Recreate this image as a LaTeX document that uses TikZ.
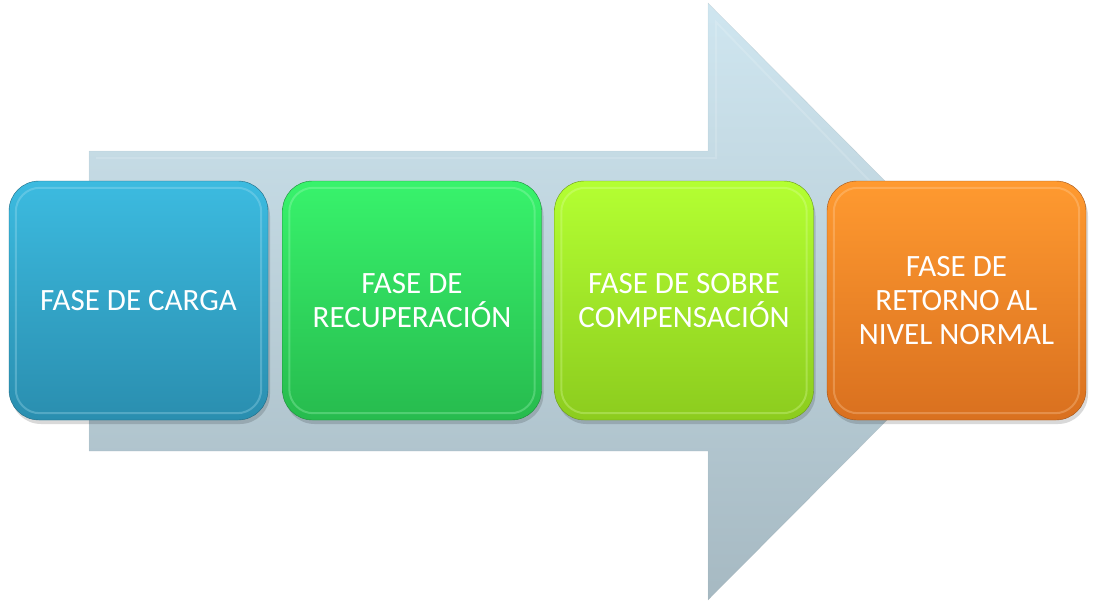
\documentclass[tikz,border=0pt]{standalone}
\usepackage{fontspec}
\setmainfont{Carlito}
\begin{document}
\begin{tikzpicture}[x=1pt,y=-1pt,
  phase/.style={rounded corners=30pt, minimum width=259pt, minimum height=239pt,
    align=center, text=white, font=\fontsize{31}{34}\selectfont, inner sep=0pt},
  bevel/.style={rounded corners=24pt, line width=2pt, draw opacity=0.3}]
\useasboundingbox (0,0) rectangle (1096,603);
\definecolor{arrtop}{HTML}{CFE6F0}
\definecolor{arrbot}{HTML}{A6B9C2}
\definecolor{bluetop}{HTML}{3CBBE0}
\definecolor{bluebot}{HTML}{2A8EAF}
\definecolor{greentop}{HTML}{38F36C}
\definecolor{greenbot}{HTML}{27BB4E}
\definecolor{limetop}{HTML}{B4FF32}
\definecolor{limebot}{HTML}{8CCC1E}
\definecolor{orangetop}{HTML}{FF9A30}
\definecolor{orangebot}{HTML}{D9701F}
% big arrow
\shade[top color=arrtop, bottom color=arrbot, draw=arrbot!80!black, draw opacity=0.25]
  (89,151) -- (708,151) -- (708,3) -- (1005,301.5) -- (708,600) -- (708,451) -- (89,451) -- cycle;
\draw[white, opacity=0.15, line width=2pt] (96,158) -- (716,158) -- (716,22) -- (986,301.5);
% boxes
\foreach \cx/\name/\ct/\cb in {138.5/b1/bluetop/bluebot, 412/b2/greentop/greenbot, 684/b3/limetop/limebot, 956.5/b4/orangetop/orangebot}{
  \fill[black, opacity=0.15, rounded corners=30pt] (\cx-129.5+2,183+3) rectangle (\cx+129.5+2,420+4);
  \node[phase, top color=\ct, bottom color=\cb, draw=\cb!75!black] (\name) at (\cx,300.5) {};
  \draw[bevel, \ct!40!white] ([xshift=7pt,yshift=-7pt]\name.north west) rectangle ([xshift=-7pt,yshift=7pt]\name.south east);
}
\node[phase, draw=none] (t1) at (b1) {FASE DE CARGA};
\node[phase, draw=none] (t2) at (b2) {FASE DE\\RECUPERACIÓN};
\node[phase, draw=none] (t3) at (b3) {FASE DE SOBRE\\COMPENSACIÓN};
\node[phase, draw=none] (t4) at (b4) {FASE DE\\RETORNO AL\\NIVEL NORMAL};
\end{tikzpicture}
\end{document}
